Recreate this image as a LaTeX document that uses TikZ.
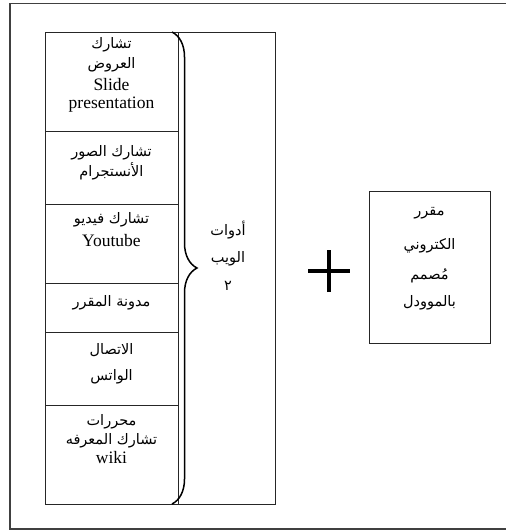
\documentclass[tikz,border=0pt]{standalone}
\usepackage{fontspec}
\setmainfont{Liberation Serif}
\newfontfamily\arabicfont[Script=Arabic]{DejaVu Sans}
\TeXXeTstate=1
\usetikzlibrary{decorations.pathreplacing}
\newcommand{\ar}[1]{{\arabicfont\beginR #1\endR}}
\begin{document}
\begin{tikzpicture}[x=1pt,y=-1pt,
  box/.style={draw=black!85, line width=1.4pt, inner sep=0pt, anchor=north west},
  arl/.style={anchor=center, inner sep=0pt, text=black, font=\fontsize{14.5}{16}\selectfont},
  lat/.style={anchor=base, inner sep=0pt, text=black, font=\fontsize{17.5}{16}\selectfont}]
\useasboundingbox (0,0) rectangle (506,531);
% outer frame
\draw[draw=black!75, line width=1.6pt] (10,3.5) rectangle (520,529);
% left column cells
\node[box, minimum width=133pt, minimum height=99pt] (c1) at (45,32) {};
\node[box, minimum width=133pt, minimum height=73pt] (c2) at (45,131) {};
\node[box, minimum width=133pt, minimum height=79pt] (c3) at (45,204) {};
\node[box, minimum width=133pt, minimum height=49pt] (c4) at (45,283) {};
\node[box, minimum width=133pt, minimum height=73pt] (c5) at (45,332) {};
\node[box, minimum width=133pt, minimum height=99pt] (c6) at (45,405) {};
% middle box
\node[box, minimum width=97pt, minimum height=472pt] (mid) at (178,32) {};
% right box
\node[box, minimum width=121pt, minimum height=152pt] (rb) at (369,191) {};
% brace
\coordinate (bt) at (172,32);
\coordinate (bb) at (172,504);
\draw[line width=1.5pt, decorate, decoration={brace, amplitude=25pt}] (bt) -- (bb);
% plus
\coordinate (pc) at (329,271);
\draw[line width=4pt] ([xshift=-21pt]pc) -- ([xshift=21pt]pc);
\draw[line width=4pt] ([yshift=-21pt]pc) -- ([yshift=21pt]pc);
% row 1
\node[arl] (t1a) at (111.5,45) {\ar{تشارك}};
\node[arl] (t1b) at (111.5,65) {\ar{العروض}};
\node[lat] (t1c) at (111.5,90) {Slide};
\node[lat] (t1d) at (111.5,108) {presentation};
% row 2
\node[arl] (t2a) at (111.5,153) {\ar{تشارك الصور}};
\node[arl] (t2b) at (111.5,171) {\ar{الأنستجرام}};
% row 3
\node[arl] (t3a) at (111.5,220) {\ar{تشارك فيديو}};
\node[lat] (t3b) at (111.5,246) {Youtube};
% row 4
\node[arl] (t4a) at (111.5,303) {\ar{مدونة المقرر}};
% row 5
\node[arl] (t5a) at (111.5,350) {\ar{الاتصال}};
\node[arl] (t5b) at (111.5,377) {\ar{الواتس}};
% row 6
\node[arl] (t6a) at (111.5,422) {\ar{محررات}};
\node[arl] (t6b) at (111.5,441) {\ar{تشارك المعرفه}};
\node[lat] (t6c) at (111.5,463) {wiki};
% middle box text
\node[arl] (tm1) at (228,230) {\ar{أدوات}};
\node[arl] (tm2) at (228,259) {\ar{الويب}};
\node[arl] (tm3) at (228,286) {\ar{٢}};
% right box text
\node[arl] (tr1) at (429.5,213) {\ar{مقرر}};
\node[arl] (tr2) at (429.5,246) {\ar{الكتروني}};
\node[arl] (tr3) at (429.5,276) {\ar{مُصمم}};
\node[arl] (tr4) at (429.5,303) {\ar{بالموودل}};
\end{tikzpicture}
\end{document}
